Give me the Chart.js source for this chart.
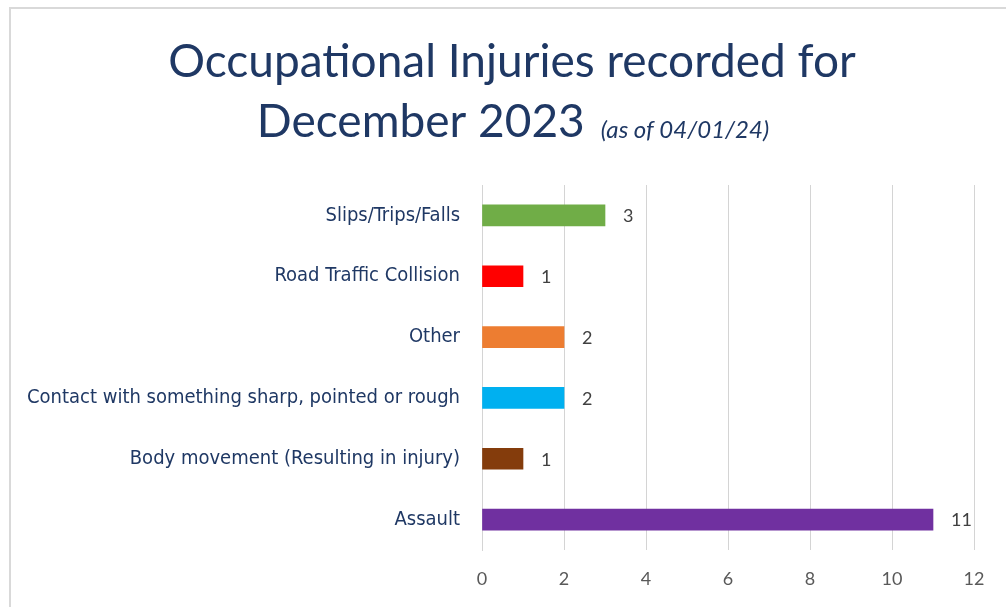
<!DOCTYPE html>
<html>
<head>
<meta charset="utf-8">
<script src="https://cdn.jsdelivr.net/npm/chart.js@4.4.1/dist/chart.umd.min.js"></script>
<style>
  html, body { margin: 0; padding: 0; background: #fff; }
  #wrap { width: 1006px; height: 607px; position: relative; }
</style>
</head>
<body>
<div id="wrap"><canvas id="injuryChart" width="1006" height="607"></canvas></div>
<script>
// data
var categories = [
    'Slips/Trips/Falls',
    'Road Traffic Collision',
    'Other',
    'Contact with something sharp, pointed or rough',
    'Body movement (Resulting in injury)',
    'Assault'
];
var injuries = [3, 1, 2, 2, 1, 11];
var barColours = ['#70ad47', '#ff0000', '#ed7d31', '#00b0f0', '#843c0c', '#7030a0'];
var xTicks = [0, 2, 4, 6, 8, 10, 12];
var titleLine1 = 'Occupational Injuries recorded for';
var titleLine2 = 'December 2023';
var titleNote = '(as of 04/01/24)';

var navy = '#1f3864';

// frame + title, drawn straight onto the canvas
var frameAndTitle = {
    id: 'frameAndTitle',
    beforeDraw: function(chart) {
        var c = chart.ctx;
        c.save();
        c.strokeStyle = '#d9d9d9';
        c.lineWidth = 2;
        c.strokeRect(10, 8, 1100, 1000);

        c.fillStyle = navy;
        c.textBaseline = 'middle';
        c.textAlign = 'center';
        c.font = '46px Lato, "Open Sans", sans-serif';
        c.fillText(titleLine1, 512, 62);

        c.textAlign = 'left';
        var w2 = c.measureText(titleLine2).width;
        c.font = 'italic 24px Lato, "Open Sans", sans-serif';
        var w3 = c.measureText(titleNote).width;
        var gap = 16;
        var start = 513 - (w2 + gap + w3) / 2;
        c.font = '46px Lato, "Open Sans", sans-serif';
        c.fillText(titleLine2, start, 122);
        c.font = 'italic 24px Lato, "Open Sans", sans-serif';
        c.fillText(titleNote, start + w2 + gap, 130);
        c.restore();
    }
};

// value labels at the end of every bar
var valueLabels = {
    id: 'valueLabels',
    afterDatasetsDraw: function(chart) {
        var c = chart.ctx;
        var meta = chart.getDatasetMeta(0);
        c.save();
        c.fillStyle = '#404040';
        c.font = '18px Lato, "Open Sans", sans-serif';
        c.textAlign = 'left';
        c.textBaseline = 'middle';
        meta.data.forEach(function(bar, i) {
            c.fillText(String(chart.data.datasets[0].data[i]), bar.x + 18, bar.y + 1);
        });
        c.restore();
    }
};

var ctx = document.getElementById('injuryChart').getContext('2d');
var injuryChart = new Chart(ctx, {
    type: 'bar',
    data: {
        labels: categories,
        datasets: [{
            data: injuries,
            backgroundColor: barColours,
            borderWidth: 0,
            barThickness: 21
        }]
    },
    options: {
        indexAxis: 'y',
        responsive: false,
        animation: false,
        layout: {
            padding: { top: 185, right: 32, bottom: 0, left: 0 }
        },
        plugins: {
            legend: { display: false },
            tooltip: { enabled: false }
        },
        scales: {
            x: {
                min: 0,
                max: 12,
                afterBuildTicks: function(scale) {
                    scale.ticks = xTicks.map(function(v) { return { value: v }; });
                },
                afterFit: function(scale) { scale.height = 57; },
                grid: { color: '#d4d4d4', lineWidth: 1, drawTicks: false },
                border: { display: false },
                ticks: {
                    color: '#595959',
                    font: { family: 'Lato, "Open Sans", sans-serif', size: 18 },
                    padding: 18
                }
            },
            y: {
                afterFit: function(scale) { scale.width = 482; },
                grid: { display: false, drawTicks: false },
                border: { display: true, color: '#d4d4d4', width: 1 },
                ticks: {
                    color: navy,
                    font: { family: '"DejaVu Sans Condensed", "Liberation Sans Narrow", sans-serif', size: 20 },
                    padding: 22
                }
            }
        }
    },
    plugins: [frameAndTitle, valueLabels]
});
</script>
</body>
</html>
